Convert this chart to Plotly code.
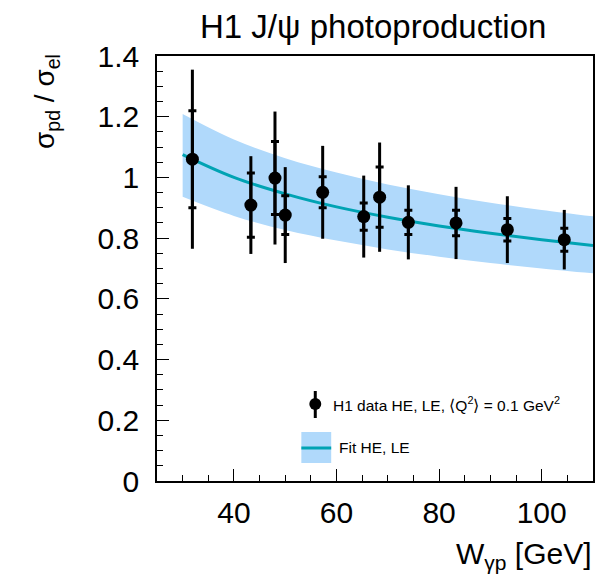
import plotly.graph_objects as go

# ---------------- data ----------------
W_gp = [31.9, 43.3, 48.0, 50.0, 57.3, 65.3, 68.4, 74.0, 83.3, 93.3, 104.4]
ratio = [1.060, 0.909, 0.998, 0.876, 0.951, 0.871, 0.935, 0.852, 0.850, 0.828, 0.795]
err_stat = [0.160, 0.106, 0.120, 0.064, 0.051, 0.045, 0.099, 0.040, 0.042, 0.037, 0.038]
err_tot = [0.295, 0.161, 0.219, 0.158, 0.153, 0.135, 0.180, 0.122, 0.119, 0.110, 0.098]

fit_W = [30, 40, 50, 60, 70, 80, 90, 100, 110]
fit_central = [1.075, 1.000, 0.946, 0.903, 0.869, 0.840, 0.816, 0.795, 0.776]
fit_upper = [1.209, 1.125, 1.063, 1.016, 0.977, 0.945, 0.917, 0.893, 0.872]
fit_lower = [0.936, 0.873, 0.827, 0.792, 0.763, 0.739, 0.718, 0.700, 0.684]

title_text = "H1 J/ψ photoproduction"
x_title = "W<sub>γp</sub> [GeV]"
y_title = "σ<sub>pd</sub> / σ<sub>el</sub>"
leg_data = "H1 data HE, LE, ⟨Q<sup>2</sup>⟩ = 0.1 GeV<sup>2</sup>"
leg_fit = "Fit HE, LE"

# ---------------- style ----------------
FONT = "Liberation Sans, Arial, sans-serif"
BAND = "#b0d9fb"
TEAL = "#00a3b3"
W_PX, H_PX = 597, 576
L, R, T, B = 157, 2, 56, 95
PW, PH = W_PX - L - R, H_PX - T - B


def px(x):
    return (x - L) / PW


def py(y):
    return (H_PX - B - y) / PH


fig = go.Figure()

fig.add_trace(go.Scatter(x=fit_W, y=fit_lower, mode="lines", line=dict(width=0, shape="spline"),
                         showlegend=False, hoverinfo="skip"))
fig.add_trace(go.Scatter(x=fit_W, y=fit_upper, mode="lines", line=dict(width=0, shape="spline"),
                         fill="tonexty", fillcolor=BAND, showlegend=False, hoverinfo="skip"))
fig.add_trace(go.Scatter(x=fit_W, y=fit_central, mode="lines",
                         line=dict(color=TEAL, width=3, shape="spline"), showlegend=False))
fig.add_trace(go.Scatter(x=W_gp, y=ratio, mode="markers",
                         marker=dict(size=1, color="black"),
                         error_y=dict(type="data", array=err_stat, visible=True,
                                      color="black", thickness=3, width=4),
                         showlegend=False))
fig.add_trace(go.Scatter(x=W_gp, y=ratio, mode="markers",
                         marker=dict(size=13, color="black"),
                         error_y=dict(type="data", array=err_tot, visible=True,
                                      color="black", thickness=3, width=0),
                         showlegend=False))

axis_common = dict(showgrid=False, zeroline=False, showline=True, linecolor="black",
                   linewidth=1.5, mirror=True, ticks="inside", tickcolor="black",
                   tickwidth=1.2, ticklen=12,
                   tickfont=dict(family=FONT, size=30, color="black"))

fig.update_xaxes(range=[25, 110], tick0=0, dtick=20,
                 minor=dict(ticks="inside", dtick=5, ticklen=6, tickcolor="black", tickwidth=1.2),
                 ticklabelstandoff=4, **axis_common)
fig.update_yaxes(range=[0, 1.4], tick0=0, dtick=0.2,
                 minor=dict(ticks="inside", dtick=0.05, ticklen=6, tickcolor="black", tickwidth=1.2),
                 ticklabelstandoff=10, **axis_common)

shapes = []
annotations = []

# legend: data entry
shapes.append(dict(type="line", xref="paper", yref="paper",
                   x0=px(316), x1=px(316), y0=py(391), y1=py(418),
                   line=dict(color="black", width=3)))
shapes.append(dict(type="circle", xref="paper", yref="paper",
                   x0=px(310), x1=px(322), y0=py(398), y1=py(410),
                   fillcolor="black", line=dict(color="black", width=0)))
# legend: fit entry
shapes.append(dict(type="rect", xref="paper", yref="paper",
                   x0=px(302), x1=px(332), y0=py(432), y1=py(463),
                   fillcolor=BAND, line=dict(width=0)))
shapes.append(dict(type="line", xref="paper", yref="paper",
                   x0=px(302), x1=px(332), y0=py(448), y1=py(448),
                   line=dict(color=TEAL, width=3)))

annotations.append(dict(text=leg_data, xref="paper", yref="paper", x=px(332), y=py(404),
                        xanchor="left", yanchor="middle", showarrow=False,
                        font=dict(family=FONT, size=15.5, color="black")))
annotations.append(dict(text=leg_fit, xref="paper", yref="paper", x=px(338), y=py(447),
                        xanchor="left", yanchor="middle", showarrow=False,
                        font=dict(family=FONT, size=15.5, color="black")))
# titles
annotations.append(dict(text=title_text, xref="paper", yref="paper", x=px(374), y=py(26),
                        xanchor="center", yanchor="middle", showarrow=False,
                        font=dict(family=FONT, size=33, color="black")))
annotations.append(dict(text=x_title, xref="paper", yref="paper", x=px(596), y=py(555),
                        xanchor="right", yanchor="middle", showarrow=False,
                        font=dict(family=FONT, size=30, color="black")))
annotations.append(dict(text=y_title, xref="paper", yref="paper", x=px(46), y=py(52),
                        xanchor="center", yanchor="top", textangle=-90, showarrow=False,
                        font=dict(family=FONT, size=28, color="black")))

fig.update_layout(width=W_PX, height=H_PX,
                  margin=dict(l=L, r=R, t=T, b=B, pad=0),
                  paper_bgcolor="white", plot_bgcolor="white",
                  shapes=shapes, annotations=annotations, showlegend=False)

fig.write_html("out.html")
